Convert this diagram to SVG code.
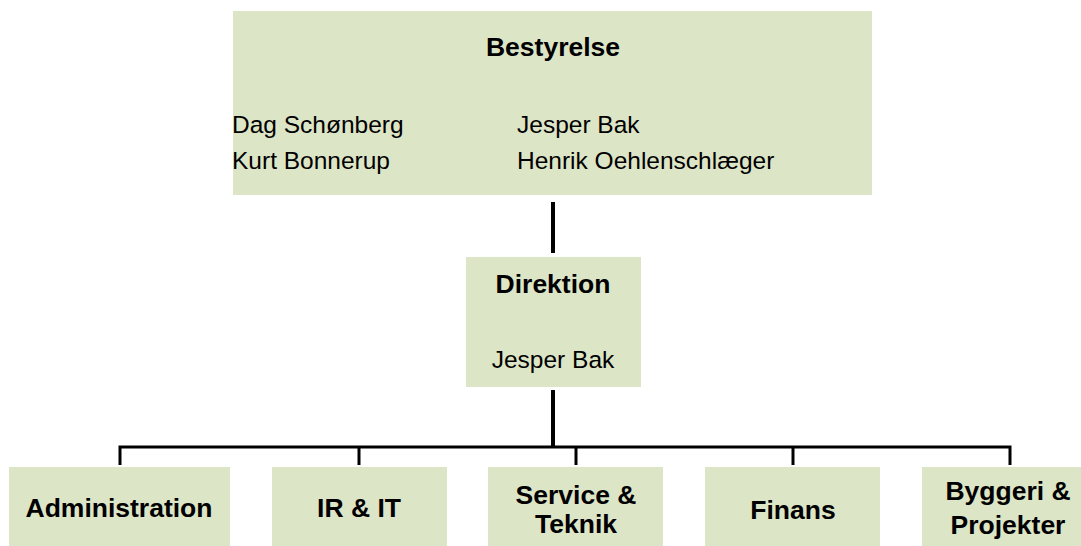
<svg xmlns="http://www.w3.org/2000/svg" width="1081" height="546" viewBox="0 0 1081 546">
  <style>
    .box { fill: #dde5c7; }
    .h { font-family: "Liberation Sans", Arial, sans-serif; font-weight: bold; font-size: 26.5px; fill: #000; text-anchor: middle; }
    .n { font-family: "Liberation Sans", Arial, sans-serif; font-size: 24.5px; fill: #000; }
    .c { text-anchor: middle; }
    .ln { stroke: #000; stroke-width: 4; fill: none; }
    .bus { stroke: #000; stroke-width: 3; fill: none; }
  </style>
  <rect width="1081" height="546" fill="#ffffff"/>
  <g id="connectors">
    <line class="ln" x1="553" y1="202" x2="553" y2="253"/>
    <line class="ln" x1="553" y1="390" x2="553" y2="447"/>
    <polyline class="bus" points="120,465 120,447 1010,447 1010,465"/>
    <line class="bus" x1="359" y1="447" x2="359" y2="465"/>
    <line class="bus" x1="576" y1="447" x2="576" y2="465"/>
    <line class="bus" x1="793" y1="447" x2="793" y2="465"/>
  </g>
  <g id="bestyrelse">
    <rect class="box" x="233" y="11" width="639" height="184"/>
    <text class="h" x="553" y="56">Bestyrelse</text>
    <text class="n" x="232" y="133">Dag Schønberg</text>
    <text class="n" x="232" y="169">Kurt Bonnerup</text>
    <text class="n" x="517" y="133">Jesper Bak</text>
    <text class="n" x="517" y="169">Henrik Oehlenschlæger</text>
  </g>
  <g id="direktion">
    <rect class="box" x="466" y="257" width="175" height="130"/>
    <text class="h" x="553" y="293">Direktion</text>
    <text class="n c" x="553" y="368">Jesper Bak</text>
  </g>
  <g id="administration">
    <rect class="box" x="9" y="467" width="221" height="85"/>
    <text class="h" x="119" y="517">Administration</text>
  </g>
  <g id="ir-it">
    <rect class="box" x="272" y="467" width="175" height="85"/>
    <text class="h" x="359" y="517">IR &amp; IT</text>
  </g>
  <g id="service-teknik">
    <rect class="box" x="488" y="467" width="175" height="85"/>
    <text class="h" x="576" y="504">Service &amp;</text>
    <text class="h" x="576" y="533">Teknik</text>
  </g>
  <g id="finans">
    <rect class="box" x="705" y="467" width="175" height="85"/>
    <text class="h" x="793" y="519">Finans</text>
  </g>
  <g id="byggeri-projekter">
    <rect class="box" x="922" y="467" width="176" height="85"/>
    <text class="h" x="1008" y="500">Byggeri &amp;</text>
    <text class="h" x="1008" y="534">Projekter</text>
  </g>
</svg>
